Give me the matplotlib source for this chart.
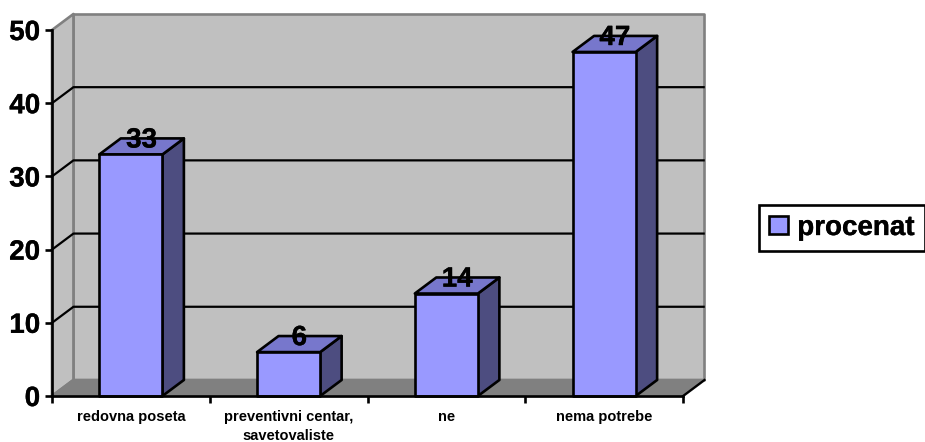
import matplotlib
matplotlib.use("Agg")
import matplotlib.pyplot as plt
import matplotlib.patheffects as pe
from matplotlib.patches import Polygon, Patch

plt.rcParams['font.family'] = ['Liberation Sans', 'DejaVu Sans']
plt.rcParams['font.weight'] = 'bold'

categories = ["redovna poseta", "preventivni centar,\nsavetovaliste", "ne", "nema potrebe"]
values = [33, 6, 14, 47]
yticks = [0, 10, 20, 30, 40, 50]
seriesName = "procenat"

# oblique depth of the 3D box, in data units
depthX = 0.136
depthY = 2.19
barWidth = 0.4

wallColor = '#C0C0C0'
floorColor = '#808080'
frontColor = '#9999FF'
topColor = '#7777CC'
sideColor = '#4D4D80'
lineW = 1.9
gridW = 1.6

heavy = [pe.withStroke(linewidth=0.25, foreground='black')]

fig = plt.figure(figsize=(9.25, 4.42), dpi=100)
ax = fig.add_axes([52 / 925, 1 - 396 / 442, (683 - 52) / 925, (396 - 30) / 442])
n = len(categories)
ax.set_xlim(0, n)
ax.set_ylim(yticks[0], yticks[-1])
ax.patch.set_visible(False)


def AddPoly(points, face, edge, z, lw=lineW):
    ax.add_patch(Polygon(points, closed=True, facecolor=face, edgecolor=edge,
                         linewidth=lw, joinstyle='round', zorder=z, clip_on=False))


# back wall, side wall, floor
top = yticks[-1]
AddPoly([(depthX, depthY), (n + depthX, depthY), (n + depthX, top + depthY), (depthX, top + depthY)],
        wallColor, floorColor, 1)
AddPoly([(0, 0), (depthX, depthY), (depthX, top + depthY), (0, top)], wallColor, floorColor, 1)
AddPoly([(0, 0), (n, 0), (n + depthX, depthY), (depthX, depthY)], floorColor, floorColor, 1)
ax.plot([n, n + depthX], [0, depthY], color='black', lw=gridW, zorder=2, clip_on=False)

# gridlines bend along the side wall
for v in yticks[1:-1]:
    ax.plot([0, depthX, n + depthX - 0.005], [v, v + depthY, v + depthY], color='black',
            lw=gridW, zorder=2, clip_on=False)

# bars
for i, v in enumerate(values):
    x0 = i + 0.5 - barWidth / 2
    x1 = i + 0.5 + barWidth / 2
    AddPoly([(x1, 0), (x1 + depthX, depthY), (x1 + depthX, v + depthY), (x1, v)], sideColor, 'black', 3)
    AddPoly([(x0, v), (x1, v), (x1 + depthX, v + depthY), (x0 + depthX, v + depthY)], topColor, 'black', 3)
    AddPoly([(x0, 0), (x1, 0), (x1, v), (x0, v)], frontColor, 'black', 3)
    ax.annotate(str(v), (i + 0.5 + depthX / 2, v + depthY), xytext=(0, -1.5), textcoords='offset points',
                ha='center', va='center', fontsize=20, fontweight='bold', color='black', zorder=5,
                path_effects=heavy)

# axes
for s in ['top', 'right']:
    ax.spines[s].set_visible(False)
for s in ['left', 'bottom']:
    ax.spines[s].set_linewidth(lineW)
    ax.spines[s].set_zorder(4)

ax.set_yticks(yticks)
ax.tick_params(axis='y', length=5, width=lineW, pad=3.5, labelsize=20)
for lab in ax.get_yticklabels():
    lab.set_path_effects(heavy)
ax.set_xticks(range(n + 1))
ax.set_xticklabels([])
ax.tick_params(axis='x', which='major', length=5, width=lineW)
ax.set_xticks([i + 0.5 for i in range(n)], minor=True)
ax.set_xticklabels(categories, minor=True, fontsize=10.5, linespacing=1.47)
ax.tick_params(axis='x', which='minor', length=0, pad=10)

leg = fig.legend(handles=[Patch(facecolor=frontColor, edgecolor='black', linewidth=lineW, label=seriesName)],
                 loc='center right', bbox_to_anchor=(924.5 / 925, 1 - 228 / 442), prop={'size': 20, 'weight': 'bold'},
                 fancybox=False, framealpha=1, edgecolor='black', borderpad=0.36, borderaxespad=0,
                 handlelength=0.68, handleheight=0.62, handletextpad=0.32)
leg.get_frame().set_linewidth(lineW)
leg.get_texts()[0].set_path_effects(heavy)

fig.savefig("out.png", dpi=100)
